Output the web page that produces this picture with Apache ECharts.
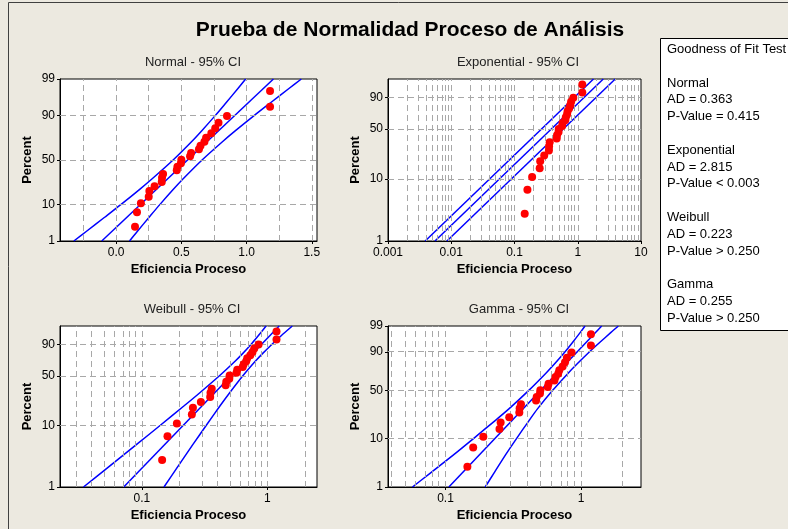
<!DOCTYPE html>
<html><head><meta charset="utf-8">
<script src="https://cdn.jsdelivr.net/npm/echarts@6/dist/echarts.min.js"></script>
<style>html,body{margin:0;padding:0;background:#ECE9E0;} #c{width:788px;height:529px;}</style>
</head><body><div id="c"></div>
<script>
// ---------------- data ----------------
const efficiency = [0.145,0.16,0.19,0.25,0.255,0.295,0.35,0.352,0.36,0.465,0.47,0.497,0.50,0.567,0.575,0.635,0.647,0.677,0.69,0.73,0.76,0.785,0.85,1.18,1.18];
const percent = [2.767,6.719,10.672,14.625,18.577,22.530,26.482,30.435,34.387,38.340,42.292,46.245,50.198,54.150,58.103,62.055,66.008,69.960,73.913,77.866,81.818,85.771,89.723,93.676,97.628];
const ciPct = [1,2,5,10,20,30,50,70,80,90,95,98,99];

const normalFit = [[-0.110,1],[1.206,99]];
const normalLower = [-0.324,-0.229,-0.088,0.036,0.181,0.281,0.437,0.578,0.657,0.761,0.843,0.934,0.993];
const normalUpper = [0.103,0.162,0.253,0.335,0.439,0.518,0.659,0.815,0.915,1.060,1.184,1.325,1.420];

const expFit = [[0.00553,1],[2.533,99]];
const expLower = [[0.00387,1],[1.773,99]];
const expUpper = [[0.00854,1],[3.913,99]];

const weibullFit = [[0.0717,1],[1.240,99]];
const weibullLower = [0.0343,0.0523,0.0914,0.1404,0.2184,0.2865,0.415,0.552,0.634,0.742,0.826,0.917,0.975];
const weibullUpper = [0.150,0.1885,0.256,0.326,0.421,0.497,0.637,0.800,0.913,1.088,1.247,1.441,1.578];

const gammaShape = 3.8;
const gammaFit = [[0.1059,1],[1.417,99]];
const gammaLower = [0.0571,0.0769,0.1164,0.1616,0.2323,0.2947,0.4112,0.5452,0.6327,0.7583,0.8634,0.9854,1.0673];
const gammaUpper = [0.1963,0.227,0.2793,0.3346,0.413,0.4779,0.6167,0.7954,0.9275,1.1477,1.3681,1.6583,1.881];

const normalXTicks = [0.0,0.5,1.0,1.5];
const normalXGrid = [-0.25,0,0.25,0.5,0.75,1,1.25,1.5];
const expXTicks = ['0.001','0.01','0.1','1','10'];
const weibullXTicks = ['0.1','1'];
const gammaXTicks = ['0.1','1'];
const normalYTicks = [1,10,50,90,99];
const expYTicks = [1,10,50,90];
const weibullYTicks = [1,10,50,90];
const gammaYTicks = [1,10,50,90,99];
const yGridPct = [10,50,90];

const mainTitle = 'Prueba de Normalidad Proceso de Análisis';
const panelTitles = ['Normal - 95% CI','Exponential - 95% CI','Weibull - 95% CI','Gamma - 95% CI'];
const xName = 'Eficiencia Proceso';
const yName = 'Percent';
const gofTitle = 'Goodness of Fit Test';
const gofBlocks = [
  ['Normal','AD = 0.363','P-Value = 0.415'],
  ['Exponential','AD = 2.815','P-Value < 0.003'],
  ['Weibull','AD = 0.223','P-Value > 0.250'],
  ['Gamma','AD = 0.255','P-Value > 0.250']
];

// ---------------- scale transforms ----------------
function probit(p){
  const a=[-3.969683028665376e+01,2.209460984245205e+02,-2.759285104469687e+02,1.383577518672690e+02,-3.066479806614716e+01,2.506628277459239e+00];
  const b=[-5.447609879822406e+01,1.615858368580409e+02,-1.556989798598866e+02,6.680131188771972e+01,-1.328068155288572e+01];
  const c=[-7.784894002430293e-03,-3.223964580411365e-01,-2.400758277161838e+00,-2.549732539343734e+00,4.374664141464968e+00,2.938163982698783e+00];
  const d=[7.784695709041462e-03,3.224671290700398e-01,2.445134137142996e+00,3.754408661907416e+00];
  const pl=0.02425, ph=1-pl; let q,r;
  if(p<pl){q=Math.sqrt(-2*Math.log(p));return (((((c[0]*q+c[1])*q+c[2])*q+c[3])*q+c[4])*q+c[5])/((((d[0]*q+d[1])*q+d[2])*q+d[3])*q+1);}
  if(p<=ph){q=p-0.5;r=q*q;return (((((a[0]*r+a[1])*r+a[2])*r+a[3])*r+a[4])*r+a[5])*q/(((((b[0]*r+b[1])*r+b[2])*r+b[3])*r+b[4])*r+1);}
  q=Math.sqrt(-2*Math.log(1-p));return -(((((c[0]*q+c[1])*q+c[2])*q+c[3])*q+c[4])*q+c[5])/((((d[0]*q+d[1])*q+d[2])*q+d[3])*q+1);
}
function lnGamma(z){
  const g=7,c=[0.99999999999980993,676.5203681218851,-1259.1392167224028,771.32342877765313,-176.61502916214059,12.507343278686905,-0.13857109526572012,9.9843695780195716e-6,1.5056327351493116e-7];
  if(z<0.5) return Math.log(Math.PI/Math.sin(Math.PI*z))-lnGamma(1-z);
  z-=1; let x=c[0]; for(let i=1;i<g+2;i++) x+=c[i]/(z+i);
  const t=z+g+0.5; return 0.5*Math.log(2*Math.PI)+(z+0.5)*Math.log(t)-t+Math.log(x);
}
function gammaP(a,x){
  if(x<=0) return 0; const gln=lnGamma(a);
  if(x<a+1){let ap=a,sum=1/a,del=sum;for(let n=0;n<500;n++){ap+=1;del*=x/ap;sum+=del;if(Math.abs(del)<Math.abs(sum)*1e-14)break;}return sum*Math.exp(-x+a*Math.log(x)-gln);}
  let b=x+1-a,c=1e300,d=1/b,h=d;
  for(let i=1;i<500;i++){const an=-i*(i-a);b+=2;d=an*d+b;if(Math.abs(d)<1e-300)d=1e-300;c=b+an/c;if(Math.abs(c)<1e-300)c=1e-300;d=1/d;const del=d*c;h*=del;if(Math.abs(del-1)<1e-14)break;}
  return 1-Math.exp(-x+a*Math.log(x)-gln)*h;
}
function gammaQuantile(a,p){let lo=-12,hi=5;for(let i=0;i<120;i++){const m=(lo+hi)/2;if(gammaP(a,Math.exp(m))<p)lo=m;else hi=m;}return Math.exp((lo+hi)/2);}

const yTf = {
  normal: p => probit(p/100),
  exp: p => Math.log10(-Math.log(1-p/100)),
  weibull: p => Math.log10(-Math.log(1-p/100)),
  gamma: p => Math.log10(gammaQuantile(gammaShape, p/100))
};
const lin = v => v, lg = v => Math.log10(v);

function logGrid(min,max){
  const out=[];
  for(let e=-4;e<=1;e++) for(let m=1;m<=9;m++){const v=m*Math.pow(10,e);
    if(Math.log10(v)>Math.log10(min)+0.004 && Math.log10(v)<Math.log10(max)-0.004) out.push(v);}
  return out;
}

const FONT = 'Liberation Sans';
const panels = [
  {key:'normal', left:60, top:79, width:257, height:162, xMin:-0.43, xMax:1.54, xTf:lin,
   xTickVals: normalXTicks, xTickLabels: normalXTicks.map(v=>v.toFixed(1)), xGrid: normalXGrid,
   yTicks: normalYTicks, fit: normalFit, lower: ciPct.map((p,i)=>[normalLower[i],p]), upper: ciPct.map((p,i)=>[normalUpper[i],p]), smooth:true,
   tx:188, ty:58},
  {key:'exp', left:388, top:79, width:253, height:162, xMin:0.001, xMax:10, xTf:lg,
   xTickVals: expXTicks.map(Number), xTickLabels: expXTicks, xGrid: logGrid(0.001,10),
   yTicks: expYTicks, fit: expFit, lower: expLower, upper: expUpper, smooth:false,
   tx:513, ty:58},
  {key:'weibull', left:60, top:326, width:257, height:161, xMin:0.0223, xMax:2.48, xTf:lg,
   xTickVals: weibullXTicks.map(Number), xTickLabels: weibullXTicks, xGrid: logGrid(0.0223,2.48),
   yTicks: weibullYTicks, fit: weibullFit, lower: ciPct.map((p,i)=>[weibullLower[i],p]), upper: ciPct.map((p,i)=>[weibullUpper[i],p]), smooth:true,
   tx:187, ty:305},
  {key:'gamma', left:388, top:326, width:253, height:161, xMin:0.0377, xMax:2.76, xTf:lg,
   xTickVals: gammaXTicks.map(Number), xTickLabels: gammaXTicks, xGrid: logGrid(0.0377,2.76),
   yTicks: gammaYTicks, fit: gammaFit, lower: ciPct.map((p,i)=>[gammaLower[i],p]), upper: ciPct.map((p,i)=>[gammaUpper[i],p]), smooth:true,
   tx:514, ty:305}
];

function labelFmt(vals, labels){
  return function(v){ for(let i=0;i<vals.length;i++){ if(Math.abs(vals[i]-v)<1e-6) return labels[i]; } return ''; };
}

const grids=[], xAxes=[], yAxes=[], series=[], titles=[];
titles.push({text: mainTitle, left: 405, top: 15, textAlign:'center',
  textStyle:{fontFamily:FONT, fontWeight:'bold', fontSize:21, color:'#000'}});

panels.forEach((P,gi)=>{
  const ty = yTf[P.key];
  grids.push({left:P.left, top:P.top, width:P.width, height:P.height, show:true, backgroundColor:'#fff', borderColor:'#000', borderWidth:1, containLabel:false});
  const xVals = P.xTickVals.map(P.xTf);
  const yVals = P.yTicks.map(ty);
  xAxes.push({gridIndex:gi, type:'value', min:P.xTf(P.xMin), max:P.xTf(P.xMax),
    axisLine:{show:true, onZero:false, lineStyle:{color:'#000', width:1}},
    axisTick:{show:true, customValues:xVals, length:3, lineStyle:{color:'#000'}},
    axisLabel:{customValues:xVals, formatter:labelFmt(xVals,P.xTickLabels), fontFamily:FONT, fontSize:12, color:'#000', margin:6, showMinLabel:true, showMaxLabel:true},
    splitLine:{show:false},
    name:xName, nameLocation:'middle', nameGap:22,
    nameTextStyle:{fontFamily:FONT, fontWeight:'bold', fontSize:13, color:'#000'}});
  yAxes.push({gridIndex:gi, type:'value', min:ty(1), max:ty(99),
    axisLine:{show:true, onZero:false, lineStyle:{color:'#000', width:1}},
    axisTick:{show:true, customValues:yVals, length:3, lineStyle:{color:'#000'}},
    axisLabel:{customValues:yVals, formatter:labelFmt(yVals,P.yTicks.map(String)), fontFamily:FONT, fontSize:12, color:'#000', margin:5, showMinLabel:true, showMaxLabel:true},
    splitLine:{show:false},
    name:yName, nameLocation:'middle', nameGap:26, nameRotate:90,
    nameTextStyle:{fontFamily:FONT, fontWeight:'bold', fontSize:13, color:'#000'}});
  titles.push({text: panelTitles[gi], left:P.tx, top:P.ty-7, textAlign:'center',
    textStyle:{fontFamily:FONT, fontWeight:'normal', fontSize:13, color:'#222'}});
  // grid lines
  series.push({type:'line', xAxisIndex:gi, yAxisIndex:gi, data:[[P.xTf(P.xMin), ty(50)]], symbol:'none', lineStyle:{opacity:0}, silent:true, z:1,
    markLine:{symbol:['none','none'], silent:true, animation:false, label:{show:false},
      lineStyle:{color:'#A8A8A8', type:[6,4], width:1},
      emphasis:{disabled:true},
      data:[...P.xGrid.map(v=>({xAxis:P.xTf(v)})), ...yGridPct.map(p=>({yAxis:ty(p)}))]}});
  const lineOf = (arr, sm) => ({type:'line', xAxisIndex:gi, yAxisIndex:gi, data: arr.map(d=>[P.xTf(d[0]), ty(d[1])]),
    symbol:'none', smooth: sm ? 0.3 : false, lineStyle:{color:'#0000FF', width:1.5}, silent:true, z:3, animation:false, clip:true});
  series.push(lineOf(P.fit,false));
  series.push(lineOf(P.lower,P.smooth));
  series.push(lineOf(P.upper,P.smooth));
  series.push({type:'scatter', xAxisIndex:gi, yAxisIndex:gi, data: efficiency.map((x,i)=>[P.xTf(x), ty(percent[i])]),
    symbol:'circle', symbolSize:8, itemStyle:{color:'#FF0000', opacity:1}, z:5, animation:false, silent:true});
});

// goodness of fit box
const gofEls = [];
gofEls.push({type:'rect', shape:{x:660.5, y:38.5, width:140, height:292}, style:{fill:'#fff', stroke:'#000', lineWidth:1}});
gofEls.push({type:'text', x:667, y:49, style:{text:gofTitle, font:'13px '+FONT, fill:'#000', verticalAlign:'middle'}});
gofBlocks.forEach((blk,bi)=>{
  blk.forEach((t,li)=>{
    gofEls.push({type:'text', x:667, y:83 + bi*67.3 + li*16.8, style:{text:t, font:'13px '+FONT, fill:'#000', verticalAlign:'middle'}});
  });
});

const chart = echarts.init(document.getElementById('c'), null, {renderer:'canvas'});
chart.setOption({
  backgroundColor:'#ECE9E0',
  animation:false,
  title: titles,
  grid: grids, xAxis: xAxes, yAxis: yAxes, series: series,
  graphic:[
    {type:'rect', shape:{x:8.5, y:2.5, width:800, height:540}, style:{fill:'none', stroke:'#404040', lineWidth:1}, silent:true},
    {type:'group', children: gofEls, silent:true}
  ]
});
</script></body></html>
